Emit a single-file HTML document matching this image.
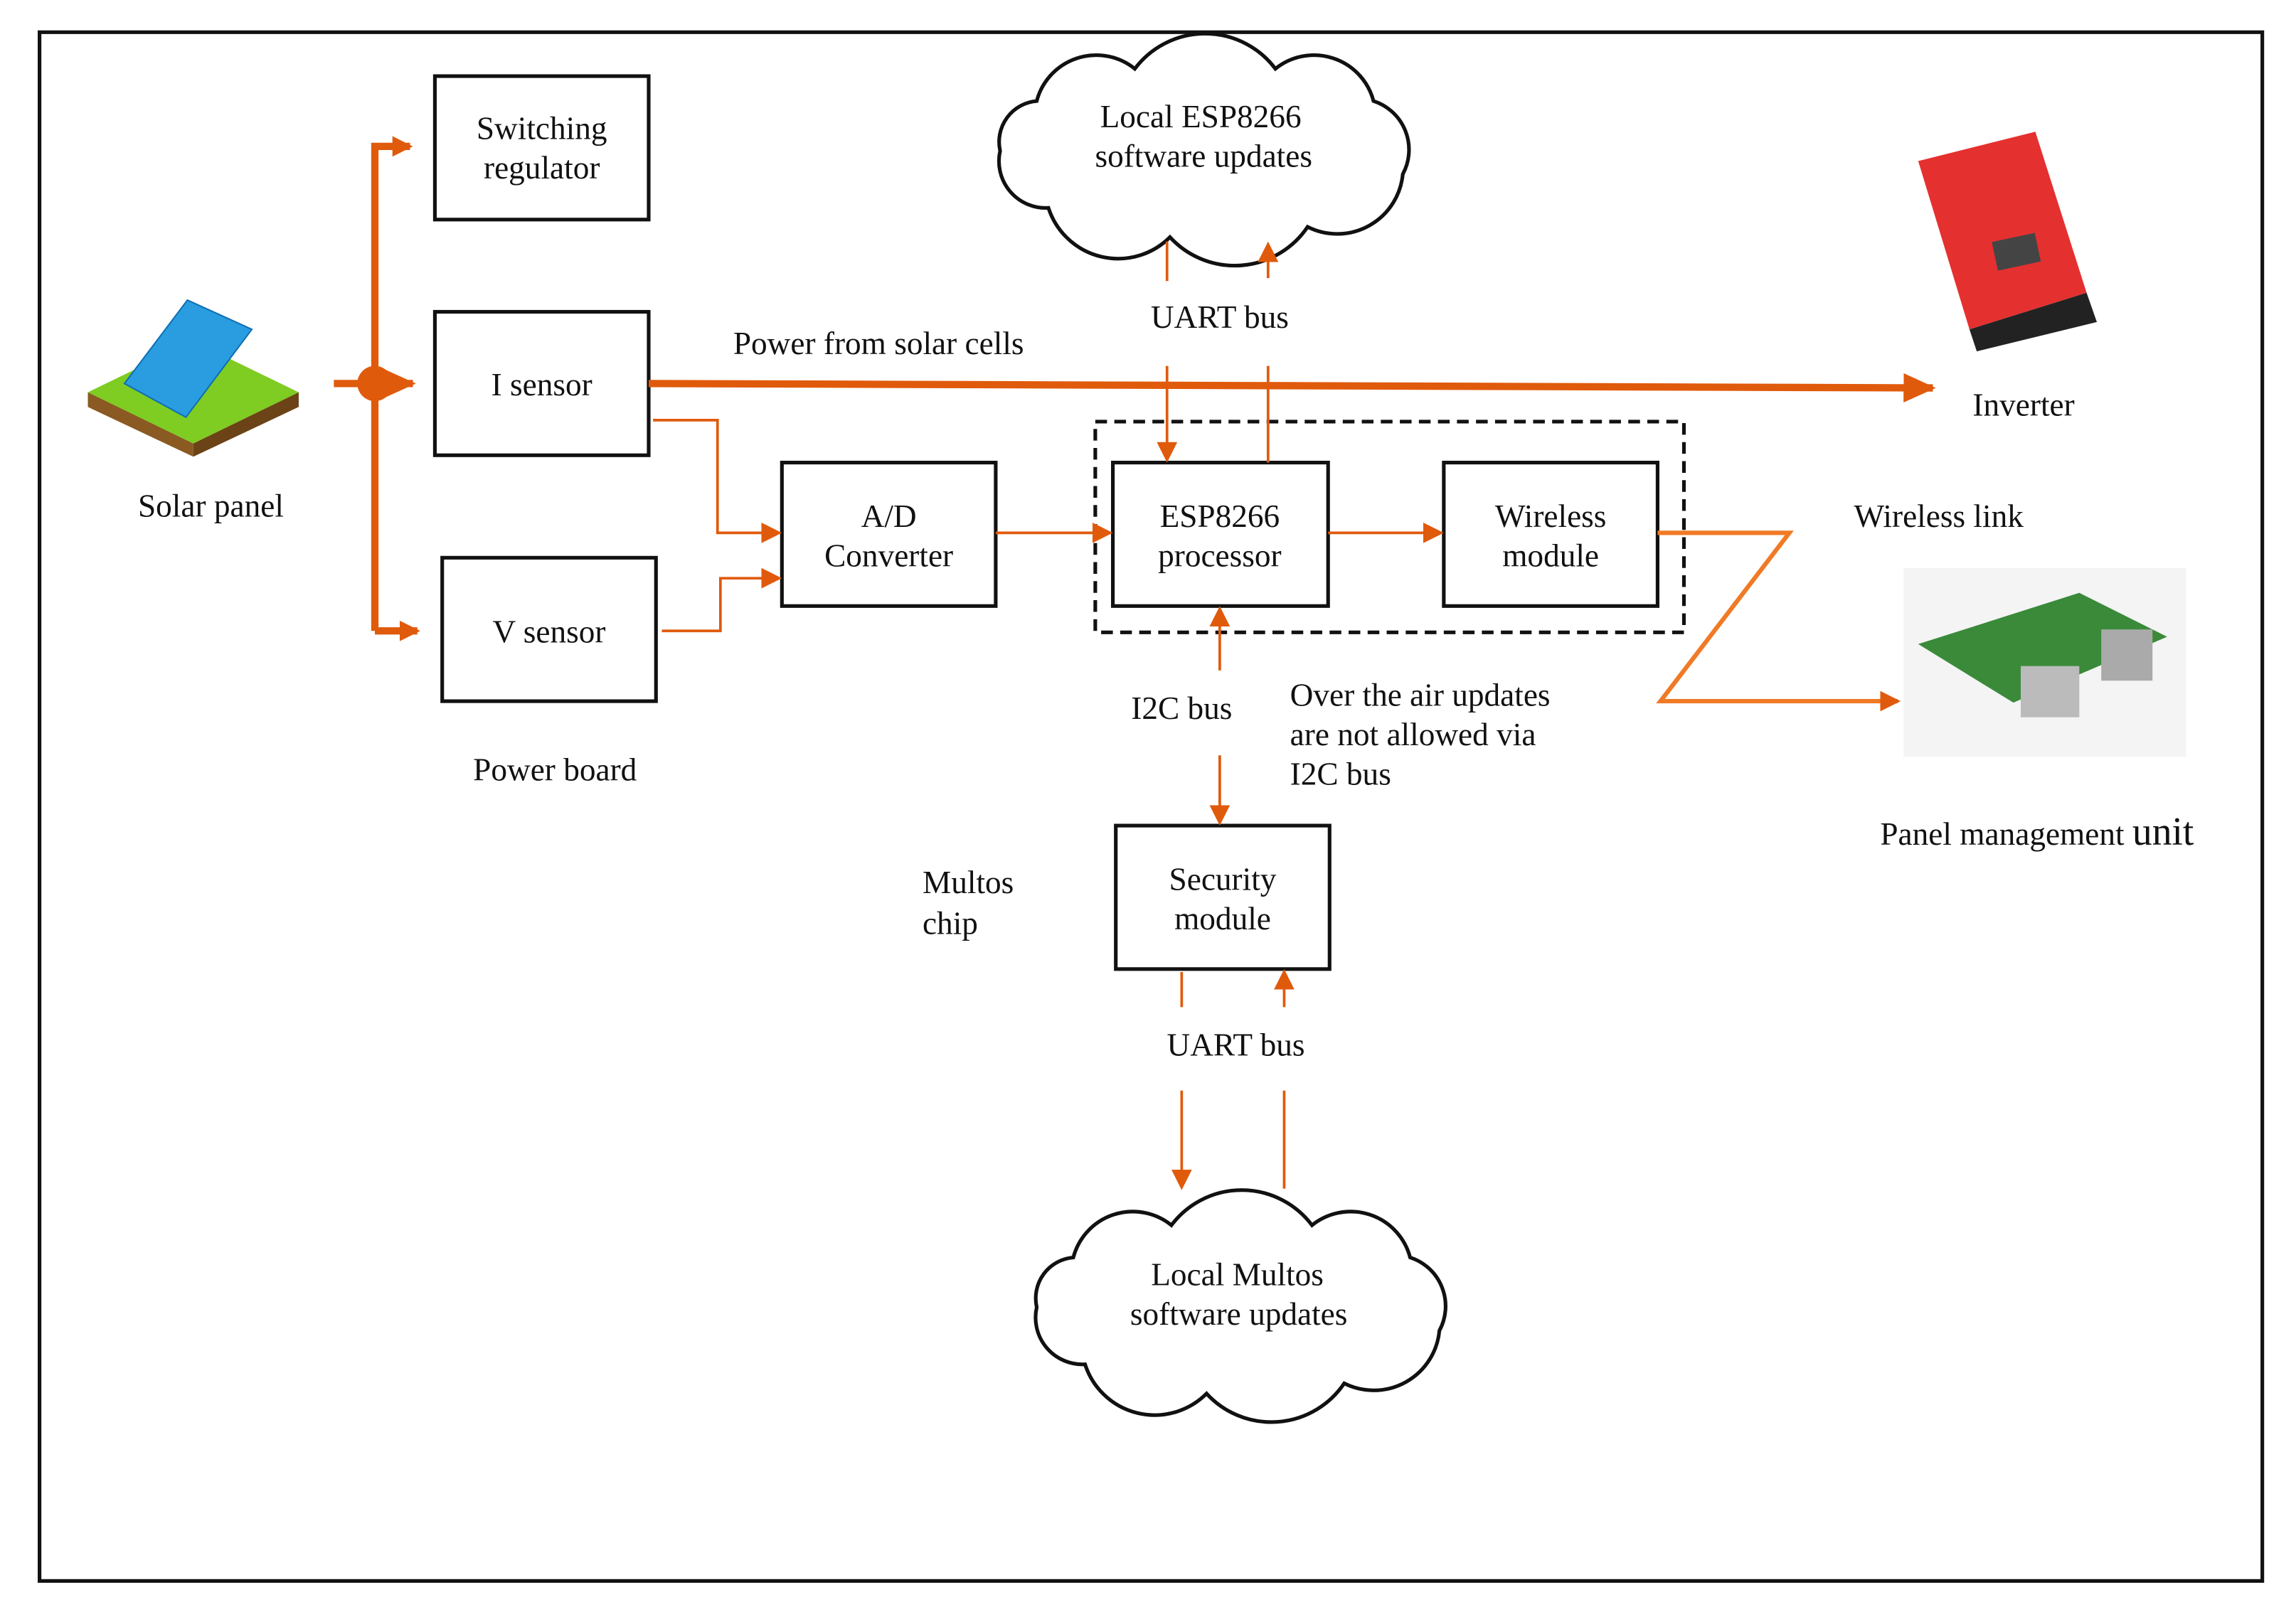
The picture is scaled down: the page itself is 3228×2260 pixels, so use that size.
<!DOCTYPE html>
<html><head><meta charset="utf-8"><style>
html,body{margin:0;padding:0;background:#fff;}
svg{display:block;}
text{font-family:"Liberation Serif",serif;font-size:22px;fill:#111;}
</style></head><body>
<svg width="3228" height="2260" viewBox="0 0 1568 1097.8" preserveAspectRatio="none" xmlns="http://www.w3.org/2000/svg">
<defs>
<marker id="b" markerWidth="14" markerHeight="14" refX="12" refY="7" orient="auto" markerUnits="userSpaceOnUse" viewBox="0 0 14 14"><path d="M0,0 L14,7 L0,14 Z" fill="#e05a0c"/></marker>
<marker id="c" markerWidth="22" markerHeight="20" refX="20" refY="10" orient="auto" markerUnits="userSpaceOnUse" viewBox="0 0 22 20"><path d="M0,0 L22,10 L0,20 Z" fill="#e05a0c"/></marker>
<path id="cl" d="M683,103 A28,28 0 0 1 708,69 A42,42 0 0 1 775,47 A60,60 0 0 1 871,47 A42,42 0 0 1 938,69 A35,35 0 0 1 958,119 A45,45 0 0 1 893,155 A60,60 0 0 1 799,162 A50,50 0 0 1 716,142 A32,32 0 0 1 683,103 Z"/>
</defs>
<rect x="27" y="22" width="1518" height="1058" fill="none" stroke="#111" stroke-width="2.5"/>
<g fill="#fff" stroke="#111" stroke-width="2.5">
<rect x="297" y="52" width="146" height="98"/>
<rect x="297" y="213" width="146" height="98"/>
<rect x="302" y="381" width="146" height="98"/>
<rect x="534" y="316" width="146" height="98"/>
<rect x="760" y="316" width="147" height="98"/>
<rect x="986" y="316" width="146" height="98"/>
<rect x="762" y="564" width="146" height="98"/>
</g>
<rect x="748" y="288" width="402" height="144" fill="none" stroke="#111" stroke-width="2.5" stroke-dasharray="8,5"/>
<g fill="#fff" stroke="#111" stroke-width="2.5">
<use href="#cl"/>
<use href="#cl" transform="translate(25,790)"/>
</g>
<g stroke="#e05a0c" fill="none" stroke-width="5">
<path d="M256,431 L256,100 L280,100" marker-end="url(#b)"/>
<path d="M256,431 L285,431" marker-end="url(#b)"/>
<path d="M228,262 L282,262" marker-end="url(#c)"/>
<path d="M443,262 L1320,265" marker-end="url(#c)"/>
</g>
<circle cx="256" cy="262" r="12" fill="#e05a0c"/>
<g stroke="#e05a0c" fill="none" stroke-width="1.8">
<path d="M446,287 L490,287 L490,364 L532,364" marker-end="url(#b)"/>
<path d="M452,431 L492,431 L492,395 L532,395" marker-end="url(#b)"/>
<path d="M680,364 L758,364" marker-end="url(#b)"/>
<path d="M907,364 L984,364" marker-end="url(#b)"/>
<path d="M797,165 L797,192"/>
<path d="M797,250 L797,314" marker-end="url(#b)"/>
<path d="M866,316 L866,250"/>
<path d="M866,190 L866,167" marker-end="url(#b)"/>
<path d="M833,458 L833,416" marker-end="url(#b)"/>
<path d="M833,516 L833,562" marker-end="url(#b)"/>
<path d="M807,664 L807,688"/>
<path d="M877,688 L877,664" marker-end="url(#b)"/>
<path d="M807,745 L807,811" marker-end="url(#b)"/>
<path d="M877,745 L877,812"/>
</g>
<path d="M1132,364 L1222,364 L1134,479 L1296,479" stroke="#f07a26" stroke-width="3" fill="none" marker-end="url(#b)"/>
<polygon points="60,268 132,233 204,268 132,303" fill="#7fcc22"/>
<polygon points="60,268 132,303 132,312 60,278" fill="#8a5a22"/>
<polygon points="204,268 132,303 132,312 204,278" fill="#6b4317"/>
<polygon points="85,262 128,205 172,225 127,285" fill="#2a9de0" stroke="#0e6fb5" stroke-width="1"/>
<polygon points="1310,110 1390,90 1425,200 1345,225" fill="#e53030"/>
<polygon points="1345,225 1425,200 1432,220 1350,240" fill="#222"/>
<rect x="1362" y="162" width="30" height="20" fill="#444" transform="rotate(-12 1377 172)"/>
<rect x="1300" y="388" width="193" height="129" fill="#f4f4f4"/>
<polygon points="1310,440 1420,405 1480,435 1375,480" fill="#3a8a3a"/>
<rect x="1380" y="455" width="40" height="35" fill="#bbb"/>
<rect x="1435" y="430" width="35" height="35" fill="#aaa"/>
<g text-anchor="middle">
<text x="370" y="95">Switching</text><text x="370" y="122">regulator</text>
<text x="370" y="270">I sensor</text>
<text x="375" y="439">V sensor</text>
<text x="607" y="360">A/D</text><text x="607" y="387">Converter</text>
<text x="833" y="360">ESP8266</text><text x="833" y="387">processor</text>
<text x="1059" y="360">Wireless</text><text x="1059" y="387">module</text>
<text x="835" y="608">Security</text><text x="835" y="635">module</text>
<text x="820" y="87">Local ESP8266</text><text x="822" y="114">software updates</text>
<text x="845" y="878">Local Multos</text><text x="846" y="905">software updates</text>
<text x="833" y="224">UART bus</text>
<text x="844" y="721">UART bus</text>
<text x="807" y="491">I2C bus</text>
<text x="144" y="353">Solar panel</text>
<text x="379" y="533">Power board</text>
<text x="1382" y="284">Inverter</text>
<text x="1324" y="360">Wireless link</text>
<text x="600" y="242">Power from solar cells</text>
</g>
<text x="630" y="610">Multos</text><text x="630" y="638">chip</text>
<text x="881" y="482">Over the air updates</text>
<text x="881" y="509">are not allowed via</text>
<text x="881" y="536">I2C bus</text>
<text x="1284" y="577">Panel management <tspan font-size="27">unit</tspan></text>
</svg>
</body></html>
